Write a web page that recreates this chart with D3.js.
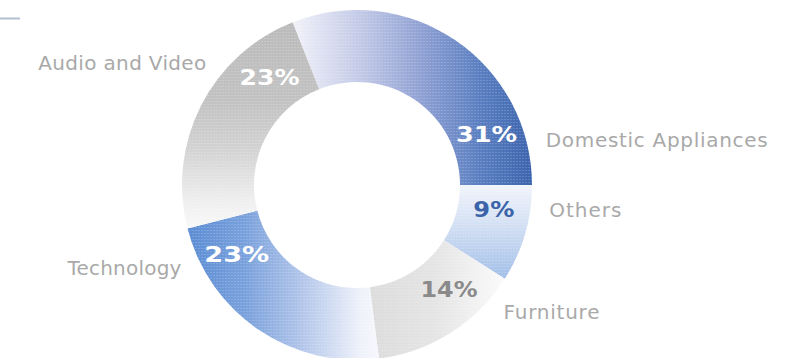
<!DOCTYPE html>
<html>
<head>
<meta charset="utf-8">
<script src="https://cdn.jsdelivr.net/npm/d3@7"></script>
<style>
  html, body { margin: 0; padding: 0; background: #fff; }
  svg { display: block; }
</style>
</head>
<body>
<svg id="chart" width="807" height="358"></svg>
<script>
// Share of sales by category (percent), clockwise from the 3 o'clock edge backwards
const categories = ["Domestic Appliances", "Others", "Furniture", "Technology", "Audio and Video"];
const shares = [31, 9, 14, 23, 23];
const shareLabels = ["31%", "9%", "14%", "23%", "23%"];

// Where along each slice (0 = start, 1 = end) the two labels sit
const pctAt = [0.81, 0.31, 0.32, 0.81, 0.79];
const nameAt = [0.88, 0.23, 0.17, 0.87, 0.645];

// Per-slice fills: gradient direction and colour stops
const fills = [
  { dir: "x", stops: [[0, "#f2f2f9"], [0.28, "#c3cae7"], [0.53, "#91a2d4"], [0.78, "#5b7fc1"], [1, "#3d65ae"]] },
  { dir: "y", stops: [[0, "#f1f4fb"], [0.4, "#d5e1f4"], [1, "#a2bfe8"]] },
  { dir: "x", stops: [[0, "#dcdcdc"], [0.5, "#e5e5e5"], [1, "#fbfbfb"]] },
  { dir: "x", stops: [[0, "#5c8dd4"], [0.3, "#7aa1dc"], [0.6, "#b3c6ea"], [0.9, "#eef1fa"], [1, "#f7f8fc"]] },
  { dir: "y", stops: [[0, "#bbbbbb"], [0.38, "#c2c2c2"], [0.62, "#d3d3d3"], [0.86, "#eeeeee"], [1, "#f9f9f9"]] }
];
const pctColor = ["#ffffff", "#3b63a9", "#8a8a8a", "#ffffff", "#ffffff"];
const pctWidth = [61, 41, 57, 65, 60];
const nameWidth = [222, 72, 96, 114, 168];

const svg = d3.select("#chart");
const cx = 357, cy = 185;
const rOuter = 175, rInner = 103;

const total = d3.sum(shares);
// The first slice ends exactly at 3 o'clock
const start = Math.PI / 2 - (shares[0] / total) * 2 * Math.PI;

const pie = d3.pie().sort(null).value(d => d)
  .startAngle(start).endAngle(start + 2 * Math.PI);
const arcs = pie(shares);
const arc = d3.arc().innerRadius(rInner).outerRadius(rOuter);

const defs = svg.append("defs");
fills.forEach((f, i) => {
  const g = defs.append("linearGradient").attr("id", "g" + i)
    .attr("x1", 0).attr("y1", 0)
    .attr("x2", f.dir === "x" ? 1 : 0).attr("y2", f.dir === "y" ? 1 : 0);
  f.stops.forEach(s => g.append("stop").attr("offset", s[0]).attr("stop-color", s[1]));
});

// fine halftone texture laid over the ring
const pat = defs.append("pattern").attr("id", "dots")
  .attr("patternUnits", "userSpaceOnUse").attr("width", 3).attr("height", 3);
pat.append("rect").attr("width", 2).attr("height", 1).attr("fill", "#ffffff").attr("opacity", 0.16);

// short accent rule at top left
svg.append("line").attr("x1", 0).attr("x2", 20).attr("y1", 18.5).attr("y2", 18.5)
  .attr("stroke", "#b3bfd2").attr("stroke-width", 2);

const ring = svg.append("g").attr("transform", `translate(${cx},${cy})`);

ring.selectAll("path.slice").data(arcs).join("path")
  .attr("class", "slice")
  .attr("d", arc)
  .attr("fill", (d, i) => `url(#g${i})`);

ring.selectAll("path.tex").data(arcs).join("path")
  .attr("class", "tex")
  .attr("d", arc)
  .attr("fill", "url(#dots)");

function pointAt(d, t, r) {
  const a = d.startAngle + t * (d.endAngle - d.startAngle);
  return [r * Math.sin(a), -r * Math.cos(a), a];
}

const font = "'DejaVu Sans', 'Liberation Sans', sans-serif";

// percentage labels inside the ring
ring.selectAll("text.pct").data(arcs).join("text")
  .attr("class", "pct")
  .each(function (d, i) {
    const [x, y] = pointAt(d, pctAt[i], 139);
    d3.select(this).attr("x", x).attr("y", y + 21 * 0.36);
  })
  .attr("text-anchor", "middle")
  .attr("font-family", font)
  .attr("font-weight", "bold")
  .attr("font-size", 21)
  .attr("fill", (d, i) => pctColor[i])
  .attr("textLength", (d, i) => pctWidth[i])
  .attr("lengthAdjust", "spacingAndGlyphs")
  .text((d, i) => shareLabels[i]);

// category names outside the ring
ring.selectAll("text.name").data(arcs).join("text")
  .attr("class", "name")
  .each(function (d, i) {
    const [x, y, a] = pointAt(d, nameAt[i], 194);
    const right = Math.sin(a) >= 0;
    d3.select(this).attr("x", x).attr("y", y + 20 * 0.36)
      .attr("text-anchor", right ? "start" : "end");
  })
  .attr("font-family", font)
  .attr("font-size", 20)
  .attr("fill", "#a9a9a9")
  .attr("textLength", (d, i) => nameWidth[i])
  .attr("lengthAdjust", "spacing")
  .text((d, i) => categories[i]);
</script>
</body>
</html>
